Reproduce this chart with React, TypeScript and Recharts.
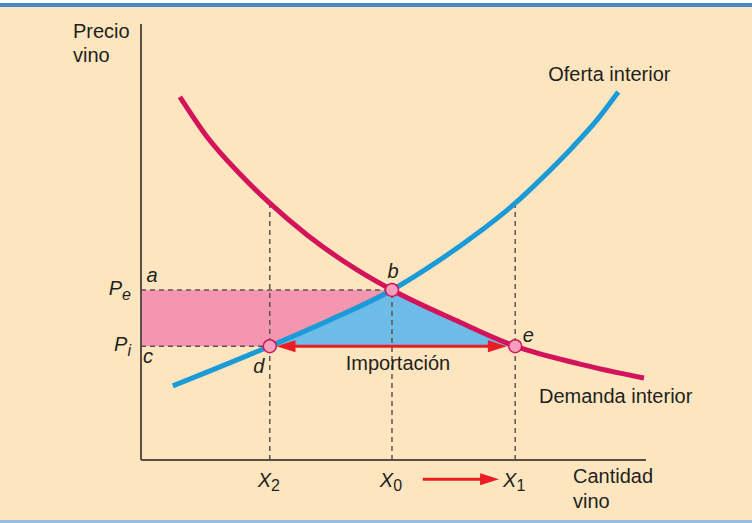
import React from 'react';
import {
  ComposedChart,
  Line,
  Area,
  XAxis,
  YAxis,
  ReferenceArea,
  ReferenceLine,
  ReferenceDot,
} from 'recharts';

const FONT = '"Liberation Sans", Arial, Helvetica, sans-serif';
const INK = '#231f20';
const RED = '#ec1c24';
const CRIMSON = '#d4145a';
const BLUE = '#1b9ad8';
const DASH = '#5d5350';

// quantities and prices (0-100 scale on both axes)
const X2 = 25.5;
const X0 = 49.7;
const X1 = 74.1;
const PE = 39.0;
const PI = 26.1;

// domestic supply
const supplyQ = [6.3, 25.5, 37.4, 49.7, 59.2, 65.7, 74.1, 79.0, 85.5, 90.3, 94.5];
const supplyP = [17.0, 26.1, 32.1, 39.0, 45.9, 51.2, 58.9, 64.2, 71.8, 78.0, 84.4];

// domestic demand
const demandQ = [7.7, 13.1, 19.6, 25.5, 32.9, 42.8, 49.7, 62.2, 74.1, 86.9, 99.6];
const demandP = [83.3, 74.1, 65.6, 58.9, 51.6, 43.6, 39.0, 32.1, 26.1, 22.0, 18.8];

const xTicks = [X2, X0, X1];
const xTickSubs = ['2', '0', '1'];
const yTicks = [PI, PE];
const yTickSubs = ['i', 'e'];

// arrow under the quantity axis (shift from X0 towards X1)
const shiftFrom = 55.8;
const shiftTo = 70.9;
const shiftLevel = -4.4;

const supplyData = supplyQ.map((q, i) => ({ q, p: supplyP[i] }));
const demandData = demandQ.map((q, i) => ({ q, p: demandP[i] }));

// blue triangle d-b-e: under supply up to b, under demand from b to e
const triSupply = supplyData
  .filter((d) => d.q >= X2 && d.q <= X0)
  .map((d) => ({ q: d.q, range: [PI, d.p] }));
const triDemand = demandData
  .filter((d) => d.q >= X0 && d.q <= X1)
  .map((d) => ({ q: d.q, range: [PI, d.p] }));

const demandAtX2 = demandP[demandQ.indexOf(X2)];
const supplyAtX1 = supplyP[supplyQ.indexOf(X1)];

const textAt =
  (lines: string[], dx: number, dy: number, opts: { anchor?: string; italic?: boolean; size?: number; lh?: number } = {}) =>
  (props: any) => {
    const vb = props.viewBox || {};
    const cx = (vb.x ?? 0) + (vb.width ?? 0) / 2;
    const cy = (vb.y ?? 0) + (vb.height ?? 0) / 2;
    const size = opts.size ?? 20;
    const lh = opts.lh ?? 24;
    return (
      <text
        x={cx + dx}
        y={cy + dy}
        fill={INK}
        fontFamily={FONT}
        fontSize={size}
        fontStyle={opts.italic ? 'italic' : 'normal'}
        textAnchor={(opts.anchor as any) ?? 'start'}
      >
        {lines.map((l, i) => (
          <tspan key={i} x={cx + dx} dy={i === 0 ? 0 : lh}>
            {l}
          </tspan>
        ))}
      </text>
    );
  };

const arrowShape = (both: boolean, inset0: number, inset1: number) => (props: any) => {
  const { x1, y1, x2, y2 } = props;
  const a = x1 + inset0;
  const b = x2 - inset1;
  const head = 19;
  const half = 6;
  return (
    <g>
      <line x1={both ? a + head - 3 : a} y1={y1} x2={b - head + 3} y2={y2} stroke={RED} strokeWidth={3} />
      <polygon points={`${b},${y2} ${b - head},${y2 - half} ${b - head},${y2 + half}`} fill={RED} />
      {both && <polygon points={`${a},${y1} ${a + head},${y1 - half} ${a + head},${y1 + half}`} fill={RED} />}
    </g>
  );
};

const QuantityTick = (props: any) => {
  const { x, y, payload } = props;
  const sub = xTickSubs[xTicks.indexOf(payload.value)];
  return (
    <text x={x - 1} y={y + 19} textAnchor="middle" fill={INK} fontFamily={FONT} fontStyle="italic" fontSize={20}>
      X
      <tspan fontSize={16} fontStyle="normal" dy={4}>
        {sub}
      </tspan>
    </text>
  );
};

const PriceTick = (props: any) => {
  const { x, y, payload } = props;
  const sub = yTickSubs[yTicks.indexOf(payload.value)];
  return (
    <text x={x - 2} y={y + 5} textAnchor="end" fill={INK} fontFamily={FONT} fontStyle="italic" fontSize={20}>
      P
      <tspan fontSize={16} dy={5}>
        {sub}
      </tspan>
    </text>
  );
};

const dotStyle = { r: 6.5, fill: '#f4a0bd', stroke: CRIMSON, strokeWidth: 1.5 };
const dashStyle = { stroke: DASH, strokeWidth: 1.5, strokeDasharray: '5 4' };

export default function App() {
  return (
    <div style={{ position: 'fixed', left: 0, top: 0, width: 752, height: 523, background: '#ffffff' }}>
      <div style={{ position: 'absolute', left: 0, top: 3, width: 752, height: 4, background: '#4a87cb' }} />
      <div style={{ position: 'absolute', left: 0, top: 7, width: 752, height: 513, background: '#fde6bf' }} />
      <div style={{ position: 'absolute', left: 0, top: 520, width: 752, height: 3, background: '#9bbcdd' }} />
      <div style={{ position: 'absolute', left: 0, top: 0 }}>
        <ComposedChart width={752} height={523} margin={{ top: 24, right: 106, bottom: 23, left: 81 }}>
          <XAxis
            type="number"
            dataKey="q"
            domain={[0, 100]}
            ticks={xTicks}
            tick={<QuantityTick />}
            tickLine={false}
            axisLine={{ stroke: '#5a4f47', strokeWidth: 2 }}
            height={40}
            allowDataOverflow
          />
          <YAxis
            type="number"
            domain={[0, 100]}
            ticks={yTicks}
            tick={<PriceTick />}
            tickLine={false}
            axisLine={{ stroke: '#5a4f47', strokeWidth: 2 }}
            width={60}
            allowDataOverflow
          />

          <ReferenceArea x1={0} x2={X0} y1={PI} y2={PE} fill="#f496af" fillOpacity={1} stroke="none" />
          <Area data={triSupply} dataKey="range" type="monotone" fill="#6dbce8" fillOpacity={1} stroke="none" isAnimationActive={false} />
          <Area data={triDemand} dataKey="range" type="monotone" fill="#6dbce8" fillOpacity={1} stroke="none" isAnimationActive={false} />

          <ReferenceLine segment={[{ x: 0, y: PE }, { x: X0, y: PE }]} {...dashStyle} />
          <ReferenceLine segment={[{ x: 0, y: PI }, { x: X2, y: PI }]} {...dashStyle} />
          <ReferenceLine segment={[{ x: X2, y: 0 }, { x: X2, y: demandAtX2 }]} {...dashStyle} />
          <ReferenceLine segment={[{ x: X0, y: 0 }, { x: X0, y: PE }]} {...dashStyle} />
          <ReferenceLine segment={[{ x: X1, y: 0 }, { x: X1, y: supplyAtX1 }]} {...dashStyle} />

          <Line data={supplyData} dataKey="p" type="monotone" stroke={BLUE} strokeWidth={5} dot={false} isAnimationActive={false} />
          <Line data={demandData} dataKey="p" type="monotone" stroke={CRIMSON} strokeWidth={5} dot={false} isAnimationActive={false} />

          <ReferenceLine segment={[{ x: X2, y: PI }, { x: X1, y: PI }]} shape={arrowShape(true, 6.7, 8.3)} />
          <ReferenceLine
            segment={[{ x: shiftFrom, y: shiftLevel }, { x: shiftTo, y: shiftLevel }]}
            ifOverflow="visible"
            shape={arrowShape(false, 0, 0)}
          />

          <ReferenceDot x={X2} y={PI} {...dotStyle} label={textAt(['d'], -11, 27, { anchor: 'middle', italic: true })} />
          <ReferenceDot x={X0} y={PE} {...dotStyle} label={textAt(['b'], 1, -12, { anchor: 'middle', italic: true })} />
          <ReferenceDot x={X1} y={PI} {...dotStyle} label={textAt(['e'], 13, -4, { anchor: 'middle', italic: true })} />

          <ReferenceDot x={0} y={PE} r={0} fill="none" stroke="none" ifOverflow="visible"
            label={textAt(['a'], 11, -8, { anchor: 'middle', italic: true })} />
          <ReferenceDot x={0} y={PI} r={0} fill="none" stroke="none" ifOverflow="visible"
            label={textAt(['c'], 7, 17, { anchor: 'middle', italic: true })} />

          <ReferenceDot x={X0} y={PI} r={0} fill="none" stroke="none"
            label={textAt(['Importación'], 6, 24, { anchor: 'middle' })} />
          <ReferenceDot x={supplyQ[supplyQ.length - 1]} y={supplyP[supplyP.length - 1]} r={0} fill="none" stroke="none"
            label={textAt(['Oferta interior'], -70, -11)} />
          <ReferenceDot x={demandQ[demandQ.length - 1]} y={demandP[demandP.length - 1]} r={0} fill="none" stroke="none"
            ifOverflow="visible" label={textAt(['Demanda interior'], -105, 25)} />
          <ReferenceDot x={100} y={0} r={0} fill="none" stroke="none" ifOverflow="visible"
            label={textAt(['Cantidad', 'vino'], -73, 23, { lh: 25 })} />
          <ReferenceDot x={0} y={100} r={0} fill="none" stroke="none" ifOverflow="visible"
            label={textAt(['Precio', 'vino'], -68, 14, { lh: 24 })} />
        </ComposedChart>
      </div>
    </div>
  );
}
